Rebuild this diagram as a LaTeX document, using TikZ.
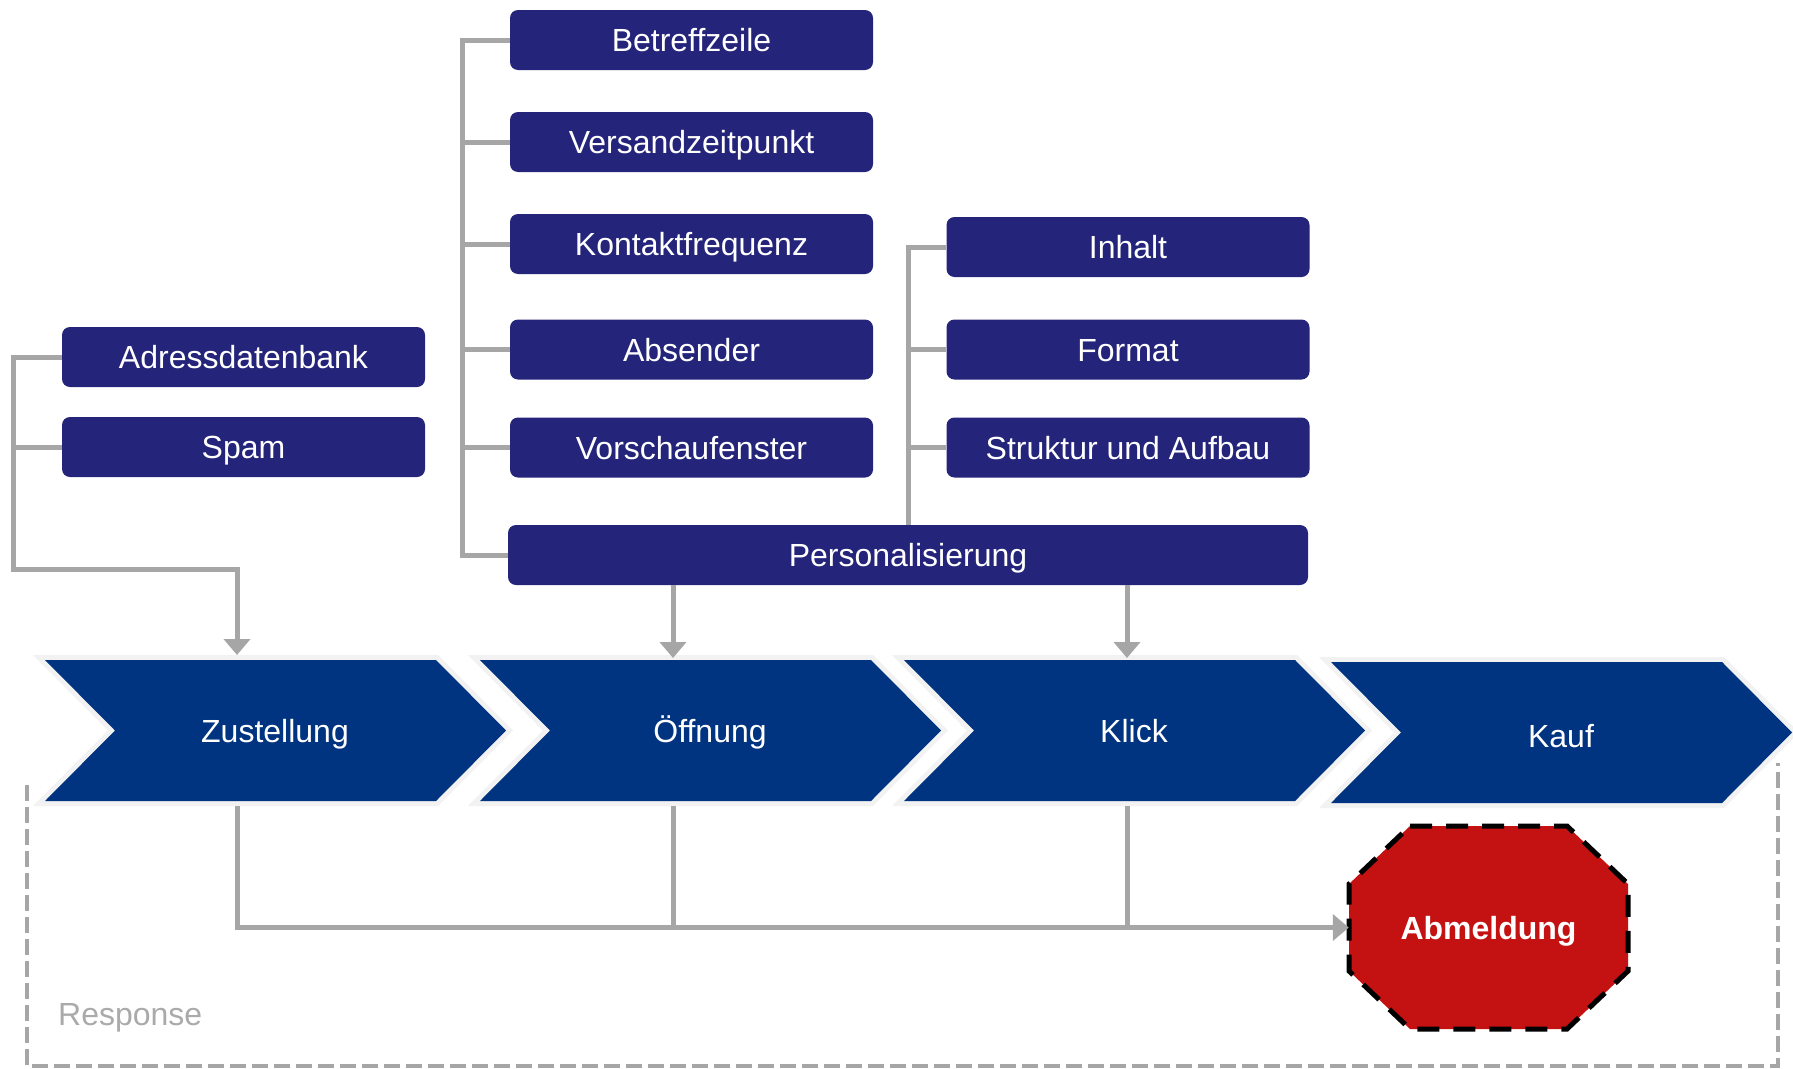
\documentclass[tikz,border=0pt]{standalone}
\usepackage{fontspec}
\setmainfont{Liberation Sans}
\usetikzlibrary{arrows.meta}
\definecolor{chevblue}{RGB}{0,51,128}
\definecolor{boxblue}{RGB}{36,36,122}
\definecolor{lineGray}{RGB}{166,166,166}
\definecolor{textGray}{RGB}{170,170,170}
\definecolor{rimGray}{RGB}{242,242,242}
\definecolor{stopRed}{RGB}{196,18,18}
\begin{document}
\begin{tikzpicture}[x=1pt,y=-1pt,
  bigfont/.style={font=\fontsize{32}{38}\selectfont},
  conn/.style={draw=lineGray, line width=5pt},
  tipped/.style={conn, -{Triangle[width=26pt,length=16pt]}},
  item/.style={rectangle, rounded corners=8pt, fill=boxblue, text=white,
    minimum width=363pt, minimum height=60pt, inner sep=0pt,
    text height=23pt, text depth=0pt, bigfont},
  chevtext/.style={text=white, inner sep=0pt, bigfont, anchor=base}]
\useasboundingbox (0,0) rectangle (1793,1068);

% response frame (open at the top, behind the process chevrons)
\draw[lineGray, line width=4.5pt, dash pattern=on 16pt off 6pt]
  (27,785) -- (27,1066) -- (1778,1066) -- (1778,763);
\node[bigfont, text=textGray, anchor=base west, inner sep=0pt] (resp) at (58,1025) {Response};

% process chevrons
\foreach \L/\T/\nm/\txt/\bl in {45/660/zust/Zustellung/742, 480/660/oeff/Öffnung/742,
    904/660/klick/Klick/742, 1331/662/kauf/Kauf/747} {
  \draw[rimGray, line width=10pt, line join=miter]
    (\L,\T) -- ++(391,0) -- ++(70,70.5) -- ++(-70,70.5) -- ++(-391,0) -- ++(70,-70.5) -- cycle;
  \fill[chevblue]
    (\L,\T) -- ++(391,0) -- ++(70,70.5) -- ++(-70,70.5) -- ++(-391,0) -- ++(70,-70.5) -- cycle;
  \node[chevtext] (\nm) at (\L+230,\bl) {\txt};
}
\coordinate (zustIn) at (237,655);
\coordinate (oeffIn) at (673,658);
\coordinate (klickIn) at (1127,658);
\coordinate (zustOut) at (237,806);
\coordinate (oeffOut) at (673,806);
\coordinate (klickOut) at (1127,806);

% unsubscribe octagon
\filldraw[fill=stopRed, draw=black, line width=5pt, dash pattern=on 22pt off 14pt]
  (1410,826) -- (1567,826) -- (1628,884) -- (1628,971) -- (1567,1029)
  -- (1410,1029) -- (1349,971) -- (1349,884) -- cycle;
\node[minimum width=279pt, minimum height=203pt, inner sep=0pt, text=white,
  text height=23pt, text depth=0pt, font=\fontsize{32}{38}\selectfont\bfseries]
  (abm) at (1488.5,927.5) {Abmeldung};

% factor boxes
\node[item] (adr)  at (243.5,357)   {Adressdatenbank};
\node[item] (spam) at (243.5,447)   {Spam};
\node[item] (betr) at (691.5,40)    {Betreffzeile};
\node[item] (vers) at (691.5,142)   {Versandzeitpunkt};
\node[item] (kont) at (691.5,244)   {Kontaktfrequenz};
\node[item] (abs)  at (691.5,349.5) {Absender};
\node[item] (vors) at (691.5,447.5) {Vorschaufenster};
\node[item] (inh)  at (1128,247)    {Inhalt};
\node[item] (fmt)  at (1128,349.5)  {Format};
\node[item] (str)  at (1128,447.5)  {Struktur und Aufbau};
\node[item, minimum width=800pt] (pers) at (908,555) {Personalisierung};

% brackets
\coordinate (lspine) at (13,569);
\coordinate (mspine) at (462,0);
\coordinate (rspine) at (908,0);
\draw[tipped] (adr.west) -| (lspine) -| (zustIn);
\draw[conn] (spam.west) -- (spam.west -| lspine);
\draw[conn] (betr.west) -| (mspine |- pers.west) -- (pers.west);
\foreach \b in {vers,kont,abs,vors} \draw[conn] (\b.west) -- (\b.west -| mspine);
\draw[conn] (inh.west) -| (rspine |- pers.north);
\foreach \b in {fmt,str} \draw[conn] (\b.west) -- (\b.west -| rspine);

% into the process
\draw[tipped] (pers.south -| oeffIn) -- (oeffIn);
\draw[tipped] (pers.south -| klickIn) -- (klickIn);

% response paths to the unsubscribe
\draw[tipped] (zustOut) |- (abm.west);
\draw[conn] (oeffOut) -- (oeffOut |- abm.west);
\draw[conn] (klickOut) -- (klickOut |- abm.west);
\end{tikzpicture}
\end{document}
